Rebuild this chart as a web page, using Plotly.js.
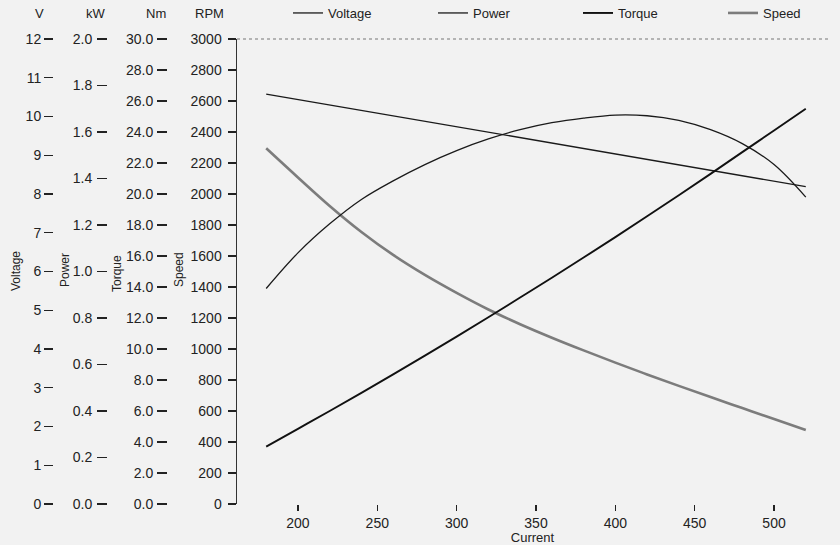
<!DOCTYPE html>
<html>
<head>
<meta charset="utf-8">
<script src="https://cdn.plot.ly/plotly-3.0.1.min.js"></script>
<style>html,body{margin:0;padding:0;background:#f2f2f2;}#chart{width:840px;height:545px;}</style>
</head>
<body>
<div id="chart"></div>
<script>
// Motor characteristic data (Current in A)
const current = [180, 200, 220, 240, 260, 280, 300, 320, 340, 360, 380, 400, 420, 440, 460, 480, 500, 520];
const voltage = [10.58, 10.44, 10.30, 10.16, 10.02, 9.88, 9.74, 9.60, 9.46, 9.31, 9.17, 9.03, 8.89, 8.75, 8.61, 8.47, 8.33, 8.19];
const power   = [0.927, 1.08, 1.205, 1.31, 1.39, 1.46, 1.52, 1.57, 1.61, 1.64, 1.66, 1.673, 1.67, 1.65, 1.61, 1.55, 1.46, 1.32];
const torque  = [3.7, 4.85, 6.0, 7.17, 8.36, 9.57, 10.8, 12.05, 13.32, 14.6, 15.9, 17.22, 18.56, 19.92, 21.3, 22.7, 24.1, 25.5];
const speed   = [2295, 2107, 1923, 1755, 1607, 1478, 1362, 1255, 1160, 1073, 991, 912, 836, 762, 690, 619, 548, 478];

const seriesNames = ['Voltage', 'Power', 'Torque', 'Speed'];
const unitLabels = ['V', 'kW', 'Nm', 'RPM'];
const xTicks = [200, 250, 300, 350, 400, 450, 500];

const W = 828; // paper width in px (margin l = 0, r = 12)
const FONT = 'Liberation Sans, Arial, sans-serif';
const INK = '#222';

const traces = [
  {x: current, y: voltage, name: seriesNames[0], yaxis: 'y2', mode: 'lines',
   line: {color: '#1a1a1a', width: 1.3}},
  {x: current, y: power, name: seriesNames[1], yaxis: 'y3', mode: 'lines',
   line: {color: '#1a1a1a', width: 1.3, shape: 'spline'}},
  {x: current, y: torque, name: seriesNames[2], yaxis: 'y4', mode: 'lines',
   line: {color: '#111', width: 1.9, shape: 'spline'}},
  {x: current, y: speed, name: seriesNames[3], yaxis: 'y', mode: 'lines',
   line: {color: '#7c7c7c', width: 2.6, shape: 'spline'}}
];

const tickFont = {family: FONT, size: 14, color: INK};
function sideAxis(pos, range, dtick, fmt, len, standoff) {
  return {
    overlaying: 'y', anchor: 'free', side: 'left', position: pos / W,
    range: range, dtick: dtick, tick0: 0, tickformat: fmt,
    ticks: 'outside', ticklen: len, tickwidth: 1.3, tickcolor: INK,
    ticklabelstandoff: standoff,
    showline: false, showgrid: false, zeroline: false,
    tickfont: tickFont, fixedrange: true, automargin: false
  };
}

const annotations = [];
const unitX = [39, 96, 156, 209];
unitLabels.forEach((u, i) => annotations.push({
  text: u, xref: 'paper', yref: 'paper', x: unitX[i] / W, y: 1 + (39 - 13) / 465,
  xanchor: 'center', yanchor: 'middle', showarrow: false,
  font: {family: FONT, size: 13, color: INK}
}));
const titleX = [16, 65, 117, 179];
const titleY = [272, 271, 274, 271];
seriesNames.forEach((t, i) => annotations.push({
  text: t, xref: 'paper', yref: 'paper', x: titleX[i] / W, y: (505 - titleY[i]) / 465,
  xanchor: 'center', yanchor: 'middle', showarrow: false, textangle: -90,
  font: {family: FONT, size: 12, color: INK}
}));

const layout = {
  width: 840, height: 545,
  margin: {l: 0, r: 12, t: 39, b: 41, autoexpand: false},
  paper_bgcolor: '#f2f2f2', plot_bgcolor: '#f2f2f2',
  font: {family: FONT, size: 13, color: INK},
  showlegend: true,
  legend: {orientation: 'h', x: 288 / W, xanchor: 'left', y: 1 + (39 - 13) / 465, yanchor: 'middle',
           font: {family: FONT, size: 13, color: INK}, bgcolor: 'rgba(0,0,0,0)',
           entrywidth: 100, entrywidthmode: 'pixels'},
  xaxis: {
    domain: [237 / W, 1], range: [161.6, 534],
    tickvals: xTicks, ticks: 'outside', ticklen: 6, tickwidth: 1.5, tickcolor: INK,
    showline: false, showgrid: false, zeroline: false, tickfont: tickFont,
    title: {text: 'Current', font: {family: FONT, size: 13, color: INK}, standoff: 0},
    fixedrange: true, automargin: false
  },
  yaxis: {
    range: [0, 3000], dtick: 200, tick0: 0,
    ticks: 'outside', ticklen: 8, tickwidth: 1.3, tickcolor: INK, ticklabelstandoff: 3,
    showline: true, linecolor: '#333', linewidth: 1.5,
    showgrid: false, zeroline: false, tickfont: tickFont, fixedrange: true, automargin: false
  },
  yaxis2: sideAxis(53, [0, 12], 1, 'd', 9, 0),
  yaxis3: sideAxis(107, [0, 2], 0.2, '.1f', 10, 2),
  yaxis4: sideAxis(167, [0, 30], 2, '.1f', 10, 1),
  shapes: [{type: 'line', xref: 'x domain', yref: 'y domain', x0: 0, x1: 1, y0: 1, y1: 1,
            line: {color: '#777', width: 1, dash: 'dot'}}],
  annotations: annotations
};

Plotly.newPlot('chart', traces, layout, {displayModeBar: false, staticPlot: true});
</script>
</body>
</html>
